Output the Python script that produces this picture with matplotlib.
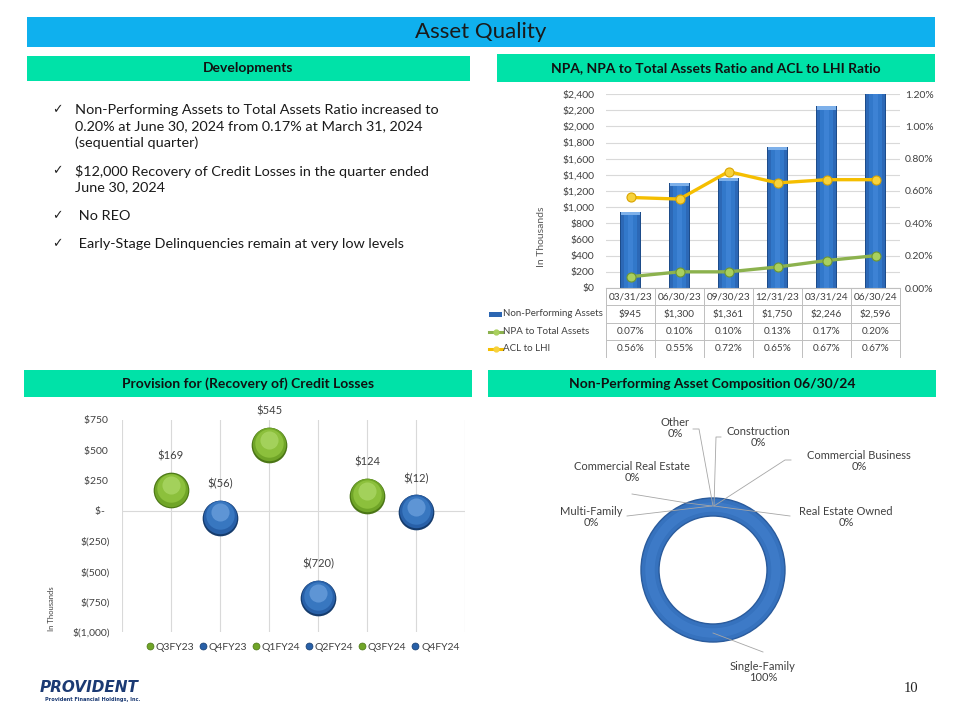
"""
Asset Quality slide: NPA bars + ratio lines, provision bubbles, NPA composition donut.
"""
import matplotlib
matplotlib.use("Agg")
import matplotlib.pyplot as plt
from matplotlib.lines import Line2D
from matplotlib.patches import Rectangle
from matplotlib.transforms import ScaledTranslation

W, H = 960, 720
FONT = ["Lato", "DejaVu Sans"]
TXT = "#404040"

# --- NPA / ratios
quarters = ["03/31/23", "06/30/23", "09/30/23", "12/31/23", "03/31/24", "06/30/24"]
npa = [945, 1300, 1361, 1750, 2246, 2596]
npa_ratio = [0.07, 0.10, 0.10, 0.13, 0.17, 0.20]
acl_ratio = [0.56, 0.55, 0.72, 0.65, 0.67, 0.67]

# --- provision for (recovery of) credit losses
prov_labels = ["Q3FY23", "Q4FY23", "Q1FY24", "Q2FY24", "Q3FY24", "Q4FY24"]
prov_values = [169, -56, 545, -720, 124, -12]

# --- NPA composition 06/30/24
comp_labels = ["Single-Family", "Multi-Family", "Commercial Real Estate", "Other",
               "Construction", "Commercial Business", "Real Estate Owned"]
comp_values = [100, 0, 0, 0, 0, 0, 0]

bullets = [
    ["Non-Performing Assets to Total Assets Ratio increased to",
     "0.20% at June 30, 2024 from 0.17% at March 31, 2024",
     "(sequential quarter)"],
    ["$12,000 Recovery of Credit Losses in the quarter ended",
     "June 30, 2024"],
    [" No REO"],
    [" Early-Stage Delinquencies remain at very low levels"],
]

BLUE_BAR = "#0FB0EE"
GREEN_BAR = "#00E2A8"


def box(x0, y0, x1, y1):
    return [x0 / W, 1 - y1 / H, (x1 - x0) / W, (y1 - y0) / H]


def acct(v):
    if v == 0:
        return "$-  "
    if v > 0:
        return f"${v:,} "
    return f"$({-v:,})"


fig = plt.figure(figsize=(W / 100, H / 100), dpi=100)

# ---------------- NPA bar chart
ax1 = fig.add_axes(box(606, 94, 900, 288))
x = range(len(quarters))
for w, c in [(0.43, "#1D4C8A"), (0.37, "#2C68B6"), (0.26, "#3278CA"), (0.12, "#3D82D4")]:
    ax1.bar(x, npa, w, color=c, zorder=2, linewidth=0)
ax1.bar(x, [40] * len(npa), 0.39, bottom=[v - 40 for v in npa], color="#7DB0EA", zorder=3, linewidth=0)
ax1.set_xlim(-0.5, len(quarters) - 0.5)
ax1.set_ylim(0, 2400)
ax1.set_yticks(range(0, 2401, 200))
ax1.set_yticklabels([f"${v:,}" for v in range(0, 2401, 200)], fontsize=7.5, color=TXT, family=FONT)
ax1.set_xticks([])
ax1.tick_params(axis="y", length=0, pad=8.5)
ax1.grid(axis="y", color="#D9D9D9", lw=0.8, zorder=0)
for s in ["left", "right", "top"]:
    ax1.spines[s].set_visible(False)
ax1.spines["bottom"].set_color("#BFBFBF")

ax2 = ax1.twinx()
ax2.plot(x, acl_ratio, color="#F5BE00", lw=2.4, marker="o", ms=6.5, mfc="#F7D23C", mec="#D9A400", mew=0.8, zorder=4)
ax2.plot(x, npa_ratio, color="#8CB24E", lw=2.4, marker="o", ms=6.5, mfc="#A9D05E", mec="#6E9632", mew=0.8, zorder=4)
ax2.set_ylim(0, 1.2)
ax2.set_yticks([0, 0.2, 0.4, 0.6, 0.8, 1.0, 1.2])
ax2.set_yticklabels([f"{v:.2f}%" for v in [0, 0.2, 0.4, 0.6, 0.8, 1.0, 1.2]], fontsize=7.5, color=TXT, family=FONT)
ax2.tick_params(axis="y", length=0, pad=3.5)
for s in ["left", "right", "top", "bottom"]:
    ax2.spines[s].set_visible(False)

# ---------------- provision bubble chart
ax3 = fig.add_axes(box(122, 420, 465, 632))
px_ = list(range(1, len(prov_values) + 1))
ax3.set_xlim(0, 7)
ax3.set_ylim(-1000, 750)
ax3.set_xticks(range(0, 8))
ax3.set_xticklabels([])
ax3.grid(axis="x", color="#D9D9D9", lw=0.8, zorder=0)
ax3.axhline(0, color="#D9D9D9", lw=0.8, zorder=0)
ax3.set_yticks(range(-1000, 751, 250))
ax3.set_yticklabels([acct(v) for v in range(-1000, 751, 250)], fontsize=7.5, color=TXT, family=FONT)
ax3.tick_params(length=0, pad=8.5)
for s in ax3.spines.values():
    s.set_visible(False)

GREEN_SPH = ["#4A7515", "#70A528", "#8CC03C", "#B4DE70"]
BLUE_SPH = ["#153B6C", "#2860A8", "#3877C0", "#78AAE4"]
layers = [(660, (0, 0), 1), (580, (-0.2, 0.6), 1), (420, (-0.3, 1.6), 1), (170, (-0.3, 3.8), 0.6)]
for i, v in enumerate(prov_values):
    cols = GREEN_SPH if i % 2 == 0 else BLUE_SPH
    for (s, (dx, dy), a), c in zip(layers, cols):
        tr = ax3.transData + ScaledTranslation(dx / 72, dy / 72, fig.dpi_scale_trans)
        ax3.scatter([px_[i]], [v], s=s, color=c, alpha=a, transform=tr, zorder=3, linewidths=0)
    ax3.annotate(acct(v).strip(), (px_[i], v), xytext=(0, 24.5), textcoords="offset points",
                 ha="center", va="center", fontsize=8, color=TXT, family=FONT)

handles = [Line2D([], [], ls="", marker="o", ms=5, mfc=(GREEN_SPH if i % 2 == 0 else BLUE_SPH)[1],
                  mec=(GREEN_SPH if i % 2 == 0 else BLUE_SPH)[0], mew=0.5) for i in range(len(prov_labels))]
fig.legend(handles, prov_labels, loc="center", bbox_to_anchor=(302 / W, 1 - 647 / H), ncol=6,
           frameon=False, handletextpad=0.05, columnspacing=0.35, handlelength=1.0,
           prop={"family": FONT, "size": 7.5}, labelcolor=TXT)

# ---------------- composition donut
ax4 = fig.add_axes(box(713 - 80, 570 - 80, 713 + 80, 570 + 80))
ax4.pie(comp_values, radius=1, startangle=90, counterclock=False, colors=["#3672BE"] * len(comp_values),
        wedgeprops=dict(width=0.25, linewidth=0))
ax4.pie([comp_values[0]], radius=1, startangle=90, counterclock=False, colors=["none"],
        wedgeprops=dict(width=0.25, linewidth=1.0, edgecolor="#2A5B9C"))
ax4.pie([comp_values[0]], radius=0.94, startangle=90, counterclock=False, colors=["#4281CE"],
        wedgeprops=dict(width=0.13, linewidth=0, alpha=0.6))
ax4.set_xlim(-80 / 72, 80 / 72)
ax4.set_ylim(-80 / 72, 80 / 72)
ax4.set_aspect("equal")
ax4.axis("off")

# ---------------- overlay (pixel coords): banners, text, table, leaders
bg = fig.add_axes([0, 0, 1, 1], zorder=5)
bg.set_xlim(0, W)
bg.set_ylim(H, 0)
bg.axis("off")

bg.add_patch(Rectangle((27, 17), 908, 30, color=BLUE_BAR, lw=0))
bg.text(481, 32, "Asset Quality", ha="center", va="center", fontsize=16, color="#1A1A1A", family=FONT)
for (x0, y0, x1, y1), t in [((27, 56, 470, 81), "Developments"),
                            ((497, 54, 935, 82), "NPA, NPA to Total Assets Ratio and ACL to LHI Ratio"),
                            ((24, 370, 472, 397), "Provision for (Recovery of) Credit Losses"),
                            ((488, 370, 936, 397), "Non-Performing Asset Composition 06/30/24")]:
    bg.add_patch(Rectangle((x0, y0), x1 - x0, y1 - y0, color=GREEN_BAR, lw=0))
    bg.text((x0 + x1) / 2, (y0 + y1) / 2, t, ha="center", va="center", fontsize=10,
            fontweight="bold", color="#111111", family=FONT)

# bullets
y = 110
for b in bullets:
    bg.text(52, y, "\u2713", ha="left", va="center", fontsize=9, color="#222222", family="DejaVu Sans")
    for line in b:
        bg.text(75, y, line, ha="left", va="center", fontsize=10.4, color="#1A1A1A", family=FONT)
        y += 16.5
    y += 11.5

# NPA chart extras
bg.text(542, 237, "In Thousands", rotation=90, ha="center", va="center", fontsize=7.5, color="#595959", family=FONT)
colw = (900 - 606) / len(quarters)
rows = [296.5, 314, 331.5, 348.5]
for i in range(len(quarters) + 1):
    bg.plot([606 + i * colw] * 2, [288, 357], color="#BFBFBF", lw=0.7)
for yy in [305, 323, 340]:
    bg.plot([606, 900], [yy, yy], color="#BFBFBF", lw=0.7)
for i, q in enumerate(quarters):
    cx = 606 + (i + 0.5) * colw
    for ry, t in zip(rows, [q, f"${npa[i]:,}", f"{npa_ratio[i]:.2f}%", f"{acl_ratio[i]:.2f}%"]):
        bg.text(cx, ry, t, ha="center", va="center", fontsize=7.2, color=TXT, family=FONT)
for ry, t in zip(rows[1:], ["Non-Performing Assets", "NPA to Total Assets", "ACL to LHI"]):
    bg.text(503, ry, t, ha="left", va="center", fontsize=7, color=TXT, family=FONT)
bg.add_patch(Rectangle((489, rows[1] - 2.5), 13, 5, color="#2C66B2", lw=0))
bg.plot([489, 502], [rows[2]] * 2, color="#8CB24E", lw=2.2)
bg.plot([496], [rows[2]], marker="o", ms=3.5, color="#A9D05E")
bg.plot([489, 502], [rows[3]] * 2, color="#F5BE00", lw=2.2)
bg.plot([496], [rows[3]], marker="o", ms=3.5, color="#F7D23C")

# provision extras
bg.text(52, 609, "In Thousands", rotation=90, ha="center", va="center", fontsize=5.5, color=TXT, family=FONT)

# donut labels + leader lines
label_pos = {
    "Single-Family": ((763, 672), [(713, 633), (763, 652)]),
    "Multi-Family": ((591, 517), [(712, 506), (627, 516)]),
    "Commercial Real Estate": ((632, 472), [(712, 506), (687, 503), (632, 494)]),
    "Other": ((675, 428), [(713, 506), (699, 429), (693, 429)]),
    "Construction": ((758, 437), [(714, 506), (716, 437), (721, 437)]),
    "Commercial Business": ((859, 461), [(714, 506), (785, 460), (791, 460)]),
    "Real Estate Owned": ((846, 517), [(714, 506), (790, 516)]),
}
for lab, val in zip(comp_labels, comp_values):
    (tx, ty), pts = label_pos[lab]
    bg.plot([p[0] for p in pts], [p[1] for p in pts], color="#A6A6A6", lw=0.6)
    bg.text(tx, ty, f"{lab}\n{val:.0f}%", ha="center", va="center", fontsize=8,
            color=TXT, family=FONT, linespacing=1.05)

# logo + page number
bg.text(40, 687, "PROVIDENT", ha="left", va="center", fontsize=11, fontweight="bold", style="italic",
        color="#1B3A73", family="DejaVu Sans")
bg.text(45, 699, "Provident Financial Holdings, Inc.", ha="left", va="center", fontsize=3.6,
        fontweight="bold", color="#1B3A73", family="DejaVu Sans")
bg.text(918, 688, "10", ha="right", va="center", fontsize=10.5, color="#222222", family="Liberation Serif")

fig.savefig("out.png", dpi=100)
